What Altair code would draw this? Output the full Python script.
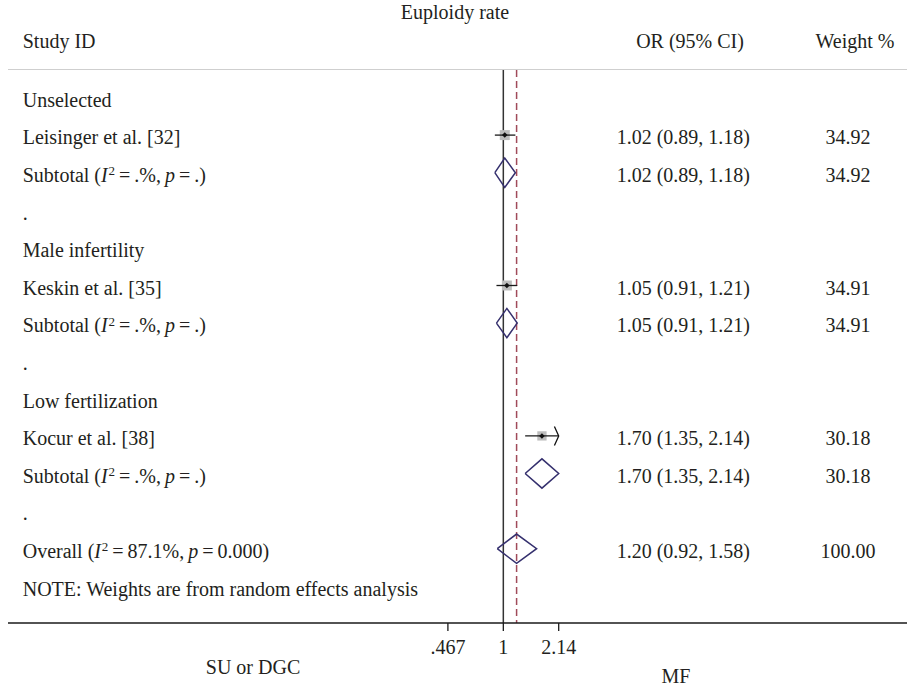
import altair as alt
import pandas as pd

FONT = "Liberation Serif"
FS = 20
TXT = "#231f20"
TH = "\u2009"  # thin space

# ---------------- data ----------------
row_labels = ["Unselected", "Leisinger et al. [32]", "Subtotal", ".",
              "Male infertility", "Keskin et al. [35]", "Subtotal", ".",
              "Low fertilization", "Kocur et al. [38]", "Subtotal", ".",
              "Overall", "NOTE: Weights are from random effects analysis"]
row_kind = ["group", "study", "subtotal", "blank",
            "group", "study", "subtotal", "blank",
            "group", "study", "subtotal", "blank",
            "overall", "note"]

study_rows = [1, 5, 9]
study_or = [1.02, 1.05, 1.70]
study_lo = [0.89, 0.91, 1.35]
study_hi = [1.18, 1.21, 2.14]
study_weight = [34.92, 34.91, 30.18]

pooled_rows = [2, 6, 10, 12]
pooled_or = [1.02, 1.05, 1.70, 1.20]
pooled_lo = [0.89, 0.91, 1.35, 0.92]
pooled_hi = [1.18, 1.21, 2.14, 1.58]
pooled_weight = [34.92, 34.91, 30.18, 100.00]
pooled_i2 = [".%", ".%", ".%", "87.1%"]
pooled_p = [".", ".", ".", "0.000"]

tick_values = [0.467, 1.0, 2.14]
tick_labels = [".467", "1", "2.14"]
overall_or = 1.20

title_text = "Euploidy rate"
left_favour = "SU or DGC"
right_favour = "MF"

# ---------------- scales ----------------
y_scale = alt.Scale(domain=[0, 13], range=[97.5, 586.3], nice=False, zero=False)
x_scale = alt.Scale(type="log", domain=[min(tick_values), max(tick_values)],
                    range=[447.9, 558.7], nice=False)
DY = 9.2  # text baseline below row centre

def X(f):
    return alt.X(f, scale=x_scale, axis=None)

def Y(f="row:Q"):
    return alt.Y(f, scale=y_scale, axis=None)

# Times-like advance widths (per 1000 em) for fragment layout
W = {' ': 250, TH: 200, '(': 333, ')': 333, '=': 564, '.': 250, '%': 833, ',': 250,
     'S': 556, 'u': 500, 'b': 500, 't': 278, 'o': 500, 'a': 444, 'l': 278,
     'O': 722, 'v': 500, 'e': 444, 'r': 333}

def tw(s, size=FS):
    return sum(W.get(c, 500) for c in s) * size / 1000.0

layers = []

# reference lines
layers.append(alt.Chart(pd.DataFrame({"a": [0]})).mark_rule(color="#cfcfcf", strokeWidth=1).encode(
    x=alt.value(8), x2=alt.value(907), y=alt.value(69.5)))
layers.append(alt.Chart(pd.DataFrame({"v": [1.0]})).mark_rule(color="#333333", strokeWidth=1.5).encode(
    x=X("v:Q"), y=alt.value(70), y2=alt.value(623)))
layers.append(alt.Chart(pd.DataFrame({"v": [overall_or]})).mark_rule(
    color="#a04a5a", strokeWidth=1.5, strokeDash=[7, 4]).encode(
    x=X("v:Q"), y=alt.value(70), y2=alt.value(623)))

# axis
layers.append(alt.Chart(pd.DataFrame({"a": [0]})).mark_rule(color="#1a1a1a", strokeWidth=1.3).encode(
    x=alt.value(8), x2=alt.value(907), y=alt.value(623)))
ticks_df = pd.DataFrame({"v": tick_values, "lab": tick_labels})
layers.append(alt.Chart(ticks_df).mark_rule(color="#1a1a1a", strokeWidth=1.3).encode(
    x=X("v:Q"), y=alt.value(623), y2=alt.value(631)))
layers.append(alt.Chart(ticks_df).mark_text(align="center", baseline="alphabetic", font=FONT,
                                            fontSize=FS, color=TXT).encode(
    x=X("v:Q"), y=alt.value(654), text="lab:N"))

# study CIs, boxes, dots
studies = pd.DataFrame({"row": study_rows, "or": study_or, "lo": study_lo,
                        "hi": study_hi, "weight": study_weight})
layers.append(alt.Chart(studies).mark_square(color="#bdbdbd", opacity=1).encode(
    x=X("or:Q"), y=Y(), size=alt.Size("weight:Q", scale=alt.Scale(domain=[0, 35], range=[0, 100]), legend=None)))
layers.append(alt.Chart(studies).mark_rule(color="#1a1a1a", strokeWidth=1.3).encode(
    x=X("lo:Q"), x2="hi:Q", y=Y()))
layers.append(alt.Chart(studies).mark_point(shape="diamond", filled=True, color="#111111",
                                            size=30, opacity=1).encode(x=X("or:Q"), y=Y()))
arrows = studies[studies["hi"] >= max(tick_values)]
layers.append(alt.Chart(arrows).mark_point(shape="M -0.45 -1 L 0 0 L -0.45 1", filled=False,
                                           color="#111111", strokeWidth=1.3, size=361, opacity=1).encode(
    x=X("hi:Q"), y=Y()))

# pooled diamonds
H = 0.39
drows = []
for i, (r, o, lo, hi) in enumerate(zip(pooled_rows, pooled_or, pooled_lo, pooled_hi)):
    pts = [(lo, r), (o, r - H), (hi, r), (o, r + H), (lo, r)]
    for k, (xv, yv) in enumerate(pts):
        drows.append({"id": i, "ord": k, "x": xv, "y": yv})
layers.append(alt.Chart(pd.DataFrame(drows)).mark_line(color="#35306e", strokeWidth=1.5).encode(
    x=X("x:Q"), y=Y("y:Q"), detail="id:N", order="ord:Q"))

# left labels (plain)
plain = pd.DataFrame({"row": [i for i, k in enumerate(row_kind) if k not in ("subtotal", "overall")],
                      "label": [row_labels[i] for i, k in enumerate(row_kind) if k not in ("subtotal", "overall")]})
layers.append(alt.Chart(plain).mark_text(align="left", baseline="alphabetic", dy=DY, font=FONT,
                                         fontSize=FS, color=TXT).encode(
    x=alt.value(22.7), y=Y(), text="label:N"))

# left labels with italic I and p (leading/trailing spaces are trimmed by the renderer,
# so they are turned into x offsets)
for r, i2, p in zip(pooled_rows, pooled_i2, pooled_p):
    prefix = row_labels[r] + " ("
    mid = TH + "=" + TH + i2 + "," + TH
    last = TH + "=" + TH + p + ")"
    pieces = [
        (prefix, "normal", FS, 0, tw(prefix)),
        ("I", "italic", FS, 0, 333 * FS / 1000 + 0.8),
        ("2", "normal", 13, 6.5, 6.5),
        (mid, "normal", FS, 0, tw(mid)),
        ("p", "italic", FS, 0, 500 * FS / 1000),
        (last, "normal", FS, 0, 0),
    ]
    x0 = 22.7
    for text, style, size, rise, adv in pieces:
        stripped = text.lstrip(" " + TH)
        lead = tw(text[:len(text) - len(stripped)], size)
        shown = stripped.rstrip(" " + TH)
        layers.append(alt.Chart(pd.DataFrame({"row": [r], "t": [shown]})).mark_text(
            align="left", baseline="alphabetic", dy=DY - rise, font=FONT, fontSize=size,
            fontStyle=style, color=TXT).encode(x=alt.value(x0 + lead), y=Y(), text="t:N"))
        x0 += adv

# OR and weight columns
or_rows = study_rows + pooled_rows
or_txt = [f"{o:.2f} ({l:.2f}, {h:.2f})" for o, l, h in
          zip(study_or + pooled_or, study_lo + pooled_lo, study_hi + pooled_hi)]
wt_txt = [f"{w:.2f}" for w in study_weight + pooled_weight]
cols = pd.DataFrame({"row": or_rows, "ort": or_txt, "wt": wt_txt})
layers.append(alt.Chart(cols).mark_text(align="left", baseline="alphabetic", dy=DY, font=FONT,
                                        fontSize=FS, color=TXT).encode(
    x=alt.value(616.7), y=Y(), text="ort:N"))
layers.append(alt.Chart(cols).mark_text(align="center", baseline="alphabetic", dy=DY, font=FONT,
                                        fontSize=FS, color=TXT).encode(
    x=alt.value(848), y=Y(), text="wt:N"))

# headers and favour labels
def label(text, x, y, align):
    return alt.Chart(pd.DataFrame({"t": [text]})).mark_text(
        align=align, baseline="alphabetic", font=FONT, fontSize=FS, color=TXT).encode(
        x=alt.value(x), y=alt.value(y), text="t:N")

layers.append(label(title_text, 455, 18.5, "center"))
layers.append(label("Study ID", 22.7, 47.5, "left"))
layers.append(label("OR (95% CI)", 690, 47.5, "center"))
layers.append(label("Weight %", 855, 47.5, "center"))
layers.append(label(left_favour, 253, 673.5, "center"))
layers.append(label(right_favour, 676, 683, "center"))

chart = alt.layer(*layers).properties(
    width=907, height=687, autosize=alt.AutoSizeParams(type="none"), padding=0,
    background="white").configure_view(stroke=None)

chart.save("out.html", embed_options={"renderer": "svg", "actions": False})
